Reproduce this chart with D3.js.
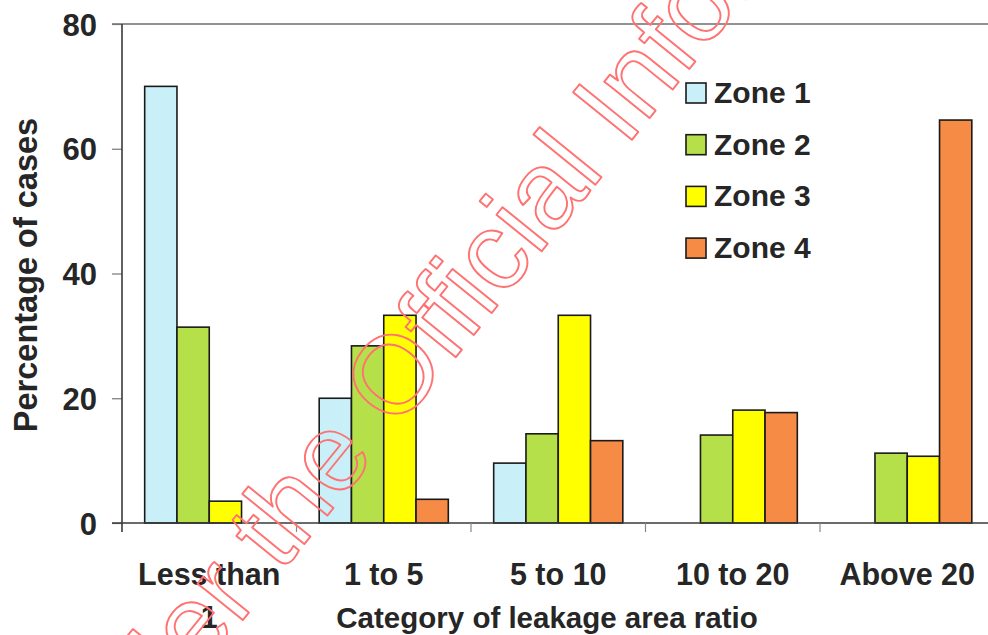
<!DOCTYPE html>
<html>
<head>
<meta charset="utf-8">
<script src="https://cdn.jsdelivr.net/npm/d3@7/dist/d3.min.js"></script>
<style>
  html, body { margin: 0; padding: 0; background: #fff; }
  svg { display: block; }
  text { font-family: "Liberation Sans", Arial, Helvetica, sans-serif; }
</style>
</head>
<body>
<svg id="chart" width="988" height="635"></svg>
<script>
// ---- data ----
const categories = ["Less than 1", "1 to 5", "5 to 10", "10 to 20", "Above 20"];
const categoryLines = [["Less than", "1"], ["1 to 5"], ["5 to 10"], ["10 to 20"], ["Above 20"]];
const zones = ["Zone 1", "Zone 2", "Zone 3", "Zone 4"];
const zone1 = [70, 20, 9.6, 0, 0];
const zone2 = [31.4, 28.4, 14.3, 14.1, 11.2];
const zone3 = [3.5, 33.3, 33.3, 18.1, 10.7];
const zone4 = [0, 3.8, 13.2, 17.7, 64.6];
const yTicks = [0, 20, 40, 60, 80];
const zoneColors = ["#c9eff9", "#b6e04a", "#ffff00", "#f58b45"];
const yTitle = "Percentage of cases";
const xTitle = "Category of leakage area ratio";
const watermark = "Released under the Official Information Act";

const series = [zone1, zone2, zone3, zone4];

(function () {
const svg = d3.select("#chart");
const W = 988;
const mLeft = 122, mTop = 24, mBottom = 523;
const step = 174.5;

const x0 = d3.scaleBand()
  .domain(categories)
  .range([mLeft, mLeft + step * categories.length])
  .paddingInner(0.26)
  .paddingOuter(0.13);
const x1 = d3.scaleBand().domain(zones).range([0, x0.bandwidth()]).padding(0);
const y = d3.scaleLinear().domain([0, 80]).range([mBottom, mTop]);

const textColor = "#262626";

// top border line
svg.append("line")
  .attr("x1", mLeft - 10).attr("x2", W)
  .attr("y1", y(80)).attr("y2", y(80))
  .attr("stroke", "#6e6e6e").attr("stroke-width", 1.5);

// bars
const groups = svg.append("g").selectAll("g")
  .data(categories)
  .join("g")
  .attr("transform", d => `translate(${x0(d)},0)`);

groups.selectAll("rect")
  .data((c, i) => zones.map((z, j) => ({ zone: z, value: series[j][i], j })))
  .join("rect")
  .attr("x", d => x1(d.zone))
  .attr("width", x1.bandwidth())
  .attr("y", d => y(d.value))
  .attr("height", d => y(0) - y(d.value))
  .attr("fill", d => zoneColors[d.j])
  .attr("stroke", "#1a1a1a")
  .attr("stroke-width", 1.6);

// y axis
const yAxis = d3.axisLeft(y).tickValues(yTicks).tickSize(10).tickPadding(15);
const gy = svg.append("g").attr("transform", `translate(${mLeft},0)`).call(yAxis);
gy.select(".domain").remove();
gy.selectAll(".tick line").attr("stroke", "#777").attr("stroke-width", 1.2);
gy.selectAll(".tick text")
  .attr("fill", textColor)
  .attr("font-size", 31)
  .attr("font-weight", "bold")
  .attr("dy", "0.36em")
  .style("font-family", '"Liberation Sans", Arial, sans-serif');

svg.append("line")
  .attr("x1", mLeft).attr("x2", mLeft)
  .attr("y1", y(80)).attr("y2", mBottom + 9)
  .attr("stroke", "#3a3a3a").attr("stroke-width", 1.6);

// x axis line
svg.append("line")
  .attr("x1", mLeft - 10).attr("x2", W)
  .attr("y1", mBottom).attr("y2", mBottom)
  .attr("stroke", "#3a3a3a").attr("stroke-width", 1.6);

// x category boundary ticks
const boundaries = categories.map(c => x0(c) - x0.step() * x0.paddingOuter());
svg.append("g").selectAll("line")
  .data(boundaries.slice(1))
  .join("line")
  .attr("x1", d => d).attr("x2", d => d)
  .attr("y1", mBottom).attr("y2", mBottom + 9)
  .attr("stroke", "#888").attr("stroke-width", 1.2);

// x category labels
const lab = svg.append("g").selectAll("text")
  .data(categories)
  .join("text")
  .attr("x", d => x0(d) + x0.bandwidth() / 2)
  .attr("y", 585)
  .attr("text-anchor", "middle")
  .attr("font-size", 30.5)
  .attr("font-weight", "bold")
  .attr("fill", textColor);
lab.selectAll("tspan")
  .data((d, i) => categoryLines[i])
  .join("tspan")
  .attr("x", function() { return this.parentNode.getAttribute("x"); })
  .attr("dy", (d, i) => i === 0 ? 0 : 43)
  .text(d => d);

// x title
svg.append("text")
  .attr("x", 547).attr("y", 628)
  .attr("text-anchor", "middle")
  .attr("font-size", 29.5)
  .attr("font-weight", "bold")
  .attr("fill", textColor)
  .text(xTitle);

// y title
svg.append("text")
  .attr("transform", "translate(37,275) rotate(-90)")
  .attr("text-anchor", "middle")
  .attr("font-size", 32.5)
  .attr("font-weight", "bold")
  .attr("fill", textColor)
  .text(yTitle);

// legend
const leg = svg.append("g").selectAll("g")
  .data(zones)
  .join("g")
  .attr("transform", (d, i) => `translate(686,${83 + i * 51.7})`);
leg.append("rect")
  .attr("width", 20).attr("height", 20)
  .attr("fill", (d, i) => zoneColors[i])
  .attr("stroke", "#1a1a1a").attr("stroke-width", 1.6);
leg.append("text")
  .attr("x", 28).attr("y", 20)
  .attr("font-size", 30)
  .attr("font-weight", "bold")
  .attr("fill", textColor)
  .text(d => d);

// watermark (outlined red text)
const fs = 110;
const meas = svg.append("text").attr("font-size", fs).style("visibility", "hidden");
meas.text("Released under the O");
const wPreO = meas.node().getComputedTextLength();
meas.text("O");
const wO = meas.node().getComputedTextLength();
meas.remove();
svg.append("text")
  .attr("transform", "translate(392,373) rotate(-51)")
  .attr("x", -(wPreO - wO / 2))
  .attr("y", fs * 0.36)
  .attr("font-size", fs)
  .attr("fill", "none")
  .attr("stroke", "#ff7272")
  .attr("stroke-width", 1.9)
  .attr("stroke-linejoin", "round")
  .text(watermark);
})();
</script>
</body>
</html>
